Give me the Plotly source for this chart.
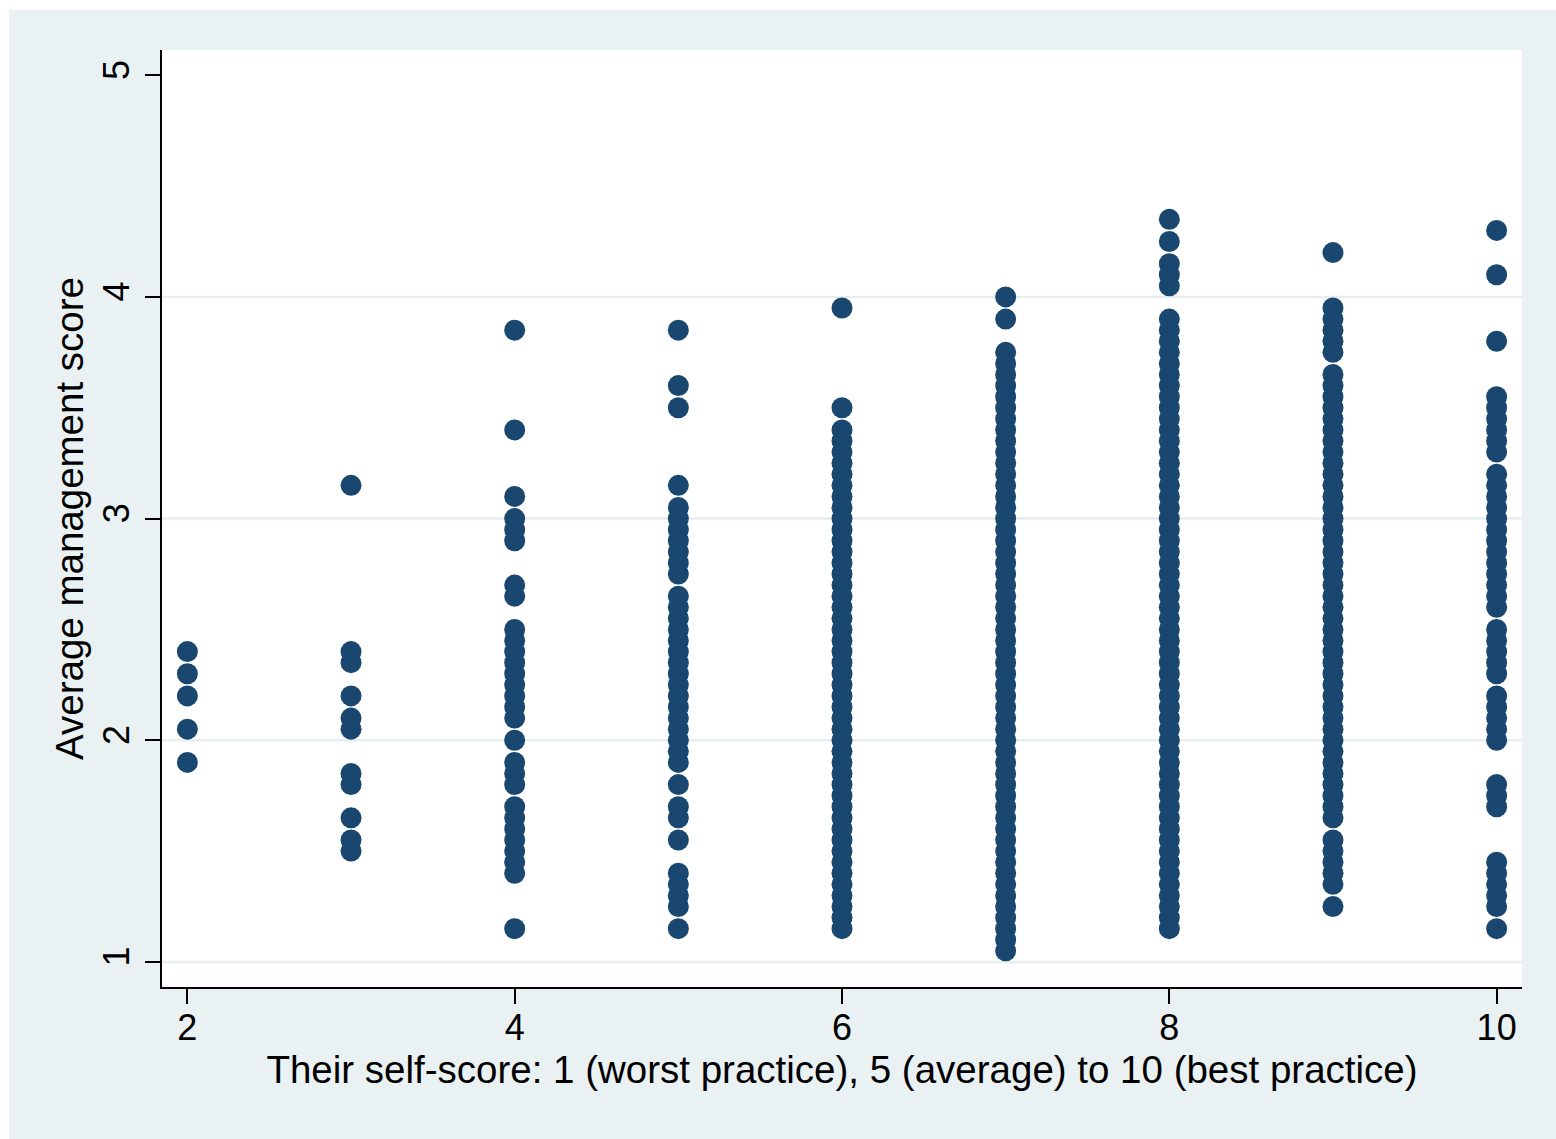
import plotly.graph_objects as go

# Self-score categories (x) and the average management scores observed at each
self_scores = [2, 3, 4, 5, 6, 7, 8, 9, 10]

mgmt_2 = [2.4, 2.3, 2.2, 2.05, 1.9]
mgmt_3 = [3.15, 2.4, 2.35, 2.2, 2.1, 2.05, 1.85, 1.8, 1.65, 1.55, 1.5]
mgmt_4 = [3.85, 3.4, 3.1, 3.0, 2.95, 2.9, 2.7, 2.65, 2.5, 2.45, 2.4, 2.35, 2.3,
          2.25, 2.2, 2.15, 2.1, 2.0, 1.9, 1.85, 1.8, 1.7, 1.65, 1.6, 1.55, 1.5,
          1.45, 1.4, 1.15]
mgmt_5 = [3.85, 3.6, 3.5, 3.15, 3.05, 3.0, 2.95, 2.9, 2.85, 2.8, 2.75, 2.65, 2.6,
          2.55, 2.5, 2.45, 2.4, 2.35, 2.3, 2.25, 2.2, 2.15, 2.1, 2.05, 2.0, 1.95,
          1.9, 1.8, 1.7, 1.65, 1.55, 1.4, 1.35, 1.3, 1.25, 1.15]
mgmt_6 = [3.95, 3.5, 3.4, 3.35, 3.3, 3.25, 3.2, 3.15, 3.1, 3.05, 3.0, 2.95, 2.9,
          2.85, 2.8, 2.75, 2.7, 2.65, 2.6, 2.55, 2.5, 2.45, 2.4, 2.35, 2.3, 2.25,
          2.2, 2.15, 2.1, 2.05, 2.0, 1.95, 1.9, 1.85, 1.8, 1.75, 1.7, 1.65, 1.6,
          1.55, 1.5, 1.45, 1.4, 1.35, 1.3, 1.25, 1.2, 1.15]
mgmt_7 = [4.0, 3.9, 3.75, 3.7, 3.65, 3.6, 3.55, 3.5, 3.45, 3.4, 3.35, 3.3, 3.25,
          3.2, 3.15, 3.1, 3.05, 3.0, 2.95, 2.9, 2.85, 2.8, 2.75, 2.7, 2.65, 2.6,
          2.55, 2.5, 2.45, 2.4, 2.35, 2.3, 2.25, 2.2, 2.15, 2.1, 2.05, 2.0, 1.95,
          1.9, 1.85, 1.8, 1.75, 1.7, 1.65, 1.6, 1.55, 1.5, 1.45, 1.4, 1.35, 1.3,
          1.25, 1.2, 1.15, 1.1, 1.05]
mgmt_8 = [4.35, 4.25, 4.15, 4.1, 4.05, 3.9, 3.85, 3.8, 3.75, 3.7, 3.65, 3.6, 3.55,
          3.5, 3.45, 3.4, 3.35, 3.3, 3.25, 3.2, 3.15, 3.1, 3.05, 3.0, 2.95, 2.9,
          2.85, 2.8, 2.75, 2.7, 2.65, 2.6, 2.55, 2.5, 2.45, 2.4, 2.35, 2.3, 2.25,
          2.2, 2.15, 2.1, 2.05, 2.0, 1.95, 1.9, 1.85, 1.8, 1.75, 1.7, 1.65, 1.6,
          1.55, 1.5, 1.45, 1.4, 1.35, 1.3, 1.25, 1.2, 1.15]
mgmt_9 = [4.2, 3.95, 3.9, 3.85, 3.8, 3.75, 3.65, 3.6, 3.55, 3.5, 3.45, 3.4, 3.35,
          3.3, 3.25, 3.2, 3.15, 3.1, 3.05, 3.0, 2.95, 2.9, 2.85, 2.8, 2.75, 2.7,
          2.65, 2.6, 2.55, 2.5, 2.45, 2.4, 2.35, 2.3, 2.25, 2.2, 2.15, 2.1, 2.05,
          2.0, 1.95, 1.9, 1.85, 1.8, 1.75, 1.7, 1.65, 1.55, 1.5, 1.45, 1.4, 1.35,
          1.25]
mgmt_10 = [4.3, 4.1, 3.8, 3.55, 3.5, 3.45, 3.4, 3.35, 3.3, 3.2, 3.15, 3.1, 3.05,
           3.0, 2.95, 2.9, 2.85, 2.8, 2.75, 2.7, 2.65, 2.6, 2.5, 2.45, 2.4, 2.35,
           2.3, 2.2, 2.15, 2.1, 2.05, 2.0, 1.8, 1.75, 1.7, 1.45, 1.4, 1.35, 1.3,
           1.25, 1.15]

scores_by_group = [mgmt_2, mgmt_3, mgmt_4, mgmt_5, mgmt_6, mgmt_7, mgmt_8,
                   mgmt_9, mgmt_10]

x_ticks = [2, 4, 6, 8, 10]
y_ticks = [1, 2, 3, 4, 5]
grid_levels = [1, 2, 3, 4]

x_title = "Their self-score: 1 (worst practice), 5 (average) to 10 (best practice)"
y_title = "Average management score"

xs, ys = [], []
for s, vals in zip(self_scores, scores_by_group):
    xs.extend([s] * len(vals))
    ys.extend(vals)

NAVY = "#1a476f"
BG = "#eaf1f3"
FONT = "Liberation Sans, Arial, Helvetica, sans-serif"
TICK_SIZE = 36
TITLE_SIZE = 38.5

fig = go.Figure()
fig.add_trace(go.Scatter(
    x=xs, y=ys, mode="markers",
    marker=dict(size=21, color=NAVY, line=dict(width=0)),
    showlegend=False, hoverinfo="x+y",
))

shapes = []
for g in grid_levels:
    shapes.append(dict(type="line", xref="paper", x0=0, x1=1, yref="y",
                       y0=g, y1=g, layer="below",
                       line=dict(color="#e6eef0", width=2.5)))

# thin white frame at the top and left edges of the page
W, H = 1556, 1139
L, R, T, B = 162, 34, 50, 152
pw, ph = W - L - R, H - T - B
def px_to_paper_x(px):
    return (px - L) / pw
def px_to_paper_y(py):
    return 1 - (py - T) / ph
shapes.append(dict(type="rect", xref="paper", yref="paper",
                   x0=px_to_paper_x(0), x1=px_to_paper_x(W),
                   y0=px_to_paper_y(0), y1=px_to_paper_y(10),
                   fillcolor="white", line=dict(width=0), layer="below"))
shapes.append(dict(type="rect", xref="paper", yref="paper",
                   x0=px_to_paper_x(0), x1=px_to_paper_x(9),
                   y0=px_to_paper_y(0), y1=px_to_paper_y(H),
                   fillcolor="white", line=dict(width=0), layer="below"))

fig.update_layout(
    width=W, height=H,
    margin=dict(l=L, r=R, t=T, b=B, autoexpand=False),
    paper_bgcolor=BG,
    plot_bgcolor="white",
    font=dict(family=FONT, size=TICK_SIZE, color="black"),
    shapes=shapes,
    xaxis=dict(
        range=[1.845, 10.155],
        tickvals=x_ticks, ticktext=[str(v) for v in x_ticks],
        showgrid=False, zeroline=False,
        showline=True, linecolor="black", linewidth=1.5,
        ticks="outside", ticklen=15, tickwidth=1.5, tickcolor="black",
        tickfont=dict(size=TICK_SIZE),
        ticklabelstandoff=-7,
        title=dict(text=x_title, font=dict(size=TITLE_SIZE), standoff=6),
    ),
    yaxis=dict(
        range=[0.887, 5.114],
        tickvals=y_ticks, ticktext=[str(v) for v in y_ticks],
        showgrid=False, zeroline=False,
        showline=True, linecolor="black", linewidth=1.5,
        ticks="outside", ticklen=15, tickwidth=1.5, tickcolor="black",
        tickangle=-90,
        tickfont=dict(size=TICK_SIZE),
        ticklabelstandoff=2,
        title=dict(text=y_title, font=dict(size=TITLE_SIZE), standoff=0),
    ),
)

fig.write_html("out.html")
